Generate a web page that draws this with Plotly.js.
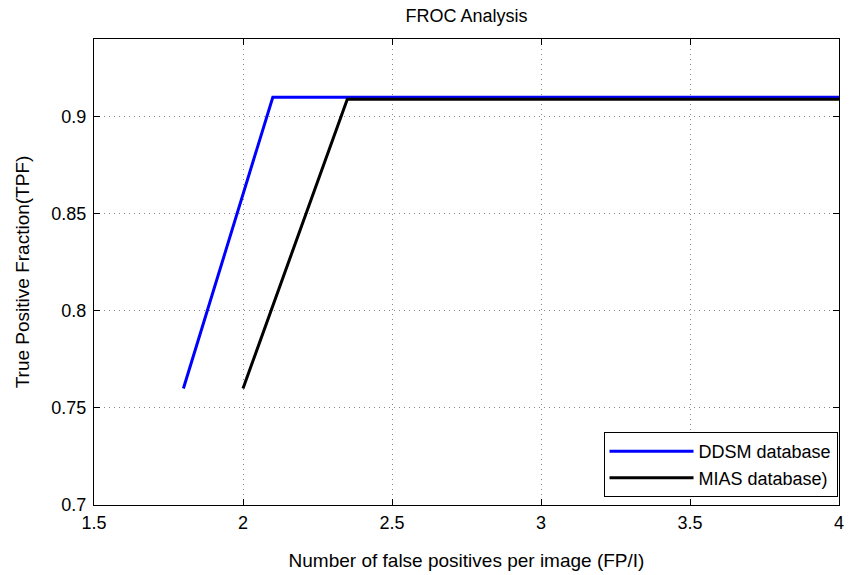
<!DOCTYPE html>
<html>
<head>
<meta charset="utf-8">
<script src="https://cdn.plot.ly/plotly-3.0.1.min.js"></script>
<style>html,body{margin:0;padding:0;background:#fff;}#chart{width:851px;height:575px;}</style>
</head>
<body>
<div id="chart"></div>
<script>
const ddsmX = [1.8, 2.1, 4.0];
const ddsmY = [0.76, 0.91, 0.91];
const miasX = [2.0, 2.35, 4.0];
const miasY = [0.76, 0.909, 0.909];
const xTicks = [1.5, 2, 2.5, 3, 3.5, 4];
const xTickText = ['1.5', '2', '2.5', '3', '3.5', '4'];
const yTicks = [0.7, 0.75, 0.8, 0.85, 0.9];
const yTickText = ['0.7', '0.75', '0.8', '0.85', '0.9'];

const font = 'Liberation Sans, Arial, sans-serif';
const axisCommon = {
  showline: true, linecolor: '#000', linewidth: 1, mirror: 'allticks',
  ticks: 'inside', ticklen: 6, tickcolor: '#000', tickwidth: 1,
  showgrid: true, gridcolor: '#888', griddash: '1px,4px', gridwidth: 1,
  zeroline: false, tickfont: {family: font, size: 18, color: '#000'}
};
const data = [
  {x: ddsmX, y: ddsmY, mode: 'lines', name: 'DDSM database', line: {color: '#0000ff', width: 3}},
  {x: miasX, y: miasY, mode: 'lines', name: 'MIAS database)', line: {color: '#000000', width: 3}}
];
const layout = {
  width: 851, height: 575,
  margin: {l: 94, r: 12, t: 39, b: 70},
  paper_bgcolor: '#fff', plot_bgcolor: '#fff',
  title: {text: 'FROC Analysis', font: {family: font, size: 18, color: '#000'}, x: 0.5, xanchor: 'center', y: 0.972, yanchor: 'middle', xref: 'paper'},
  xaxis: Object.assign({}, axisCommon, {range: [1.5, 4], tickvals: xTicks, ticktext: xTickText, ticklabelstandoff: 1,
    title: {text: 'Number of false positives per image (FP/I)', font: {family: font, size: 19, color: '#000'}, standoff: 22}}),
  yaxis: Object.assign({}, axisCommon, {range: [0.7, 0.94], tickvals: yTicks, ticktext: yTickText, ticklabelstandoff: 3,
    title: {text: 'True Positive Fraction(TPF)', font: {family: font, size: 19, color: '#000'}, standoff: 16}}),
  showlegend: true,
  legend: {x: 0.998, y: 0.017, xanchor: 'right', yanchor: 'bottom', bgcolor: '#fff', bordercolor: '#000', borderwidth: 1,
    font: {family: font, size: 18, color: '#000'}, tracegroupgap: 0, itemwidth: 84}
};
Plotly.newPlot('chart', data, layout, {displayModeBar: false, staticPlot: true});
</script>
</body>
</html>
